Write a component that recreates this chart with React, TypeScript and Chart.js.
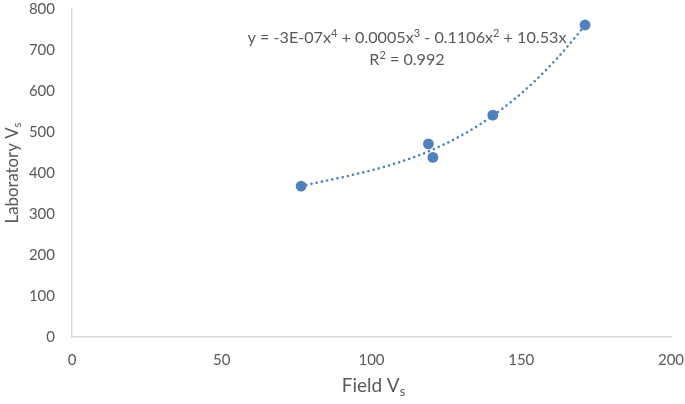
import React, { useEffect, useRef } from "react";
import { Chart, registerables } from "chart.js";

Chart.register(...registerables);

// Data
const fieldVs: number[] = [76.5, 119, 120.5, 140.5, 171.3];
const labVs: number[] = [368, 471, 438, 541, 761];

const xTickMin = 0;
const xTickMax = 200;
const xTickStep = 50;
const yTickMin = 0;
const yTickMax = 800;
const yTickStep = 100;

const xTitle = [{ t: "Field V" }, { t: "s", sub: true }];
const yTitle = [{ t: "Laboratory V" }, { t: "s", sub: true }];
const eqLine1 = [
  { t: "y = -3E-07x" },
  { t: "4", sup: true },
  { t: " + 0.0005x" },
  { t: "3", sup: true },
  { t: " - 0.1106x" },
  { t: "2", sup: true },
  { t: " + 10.53x" },
];
const eqLine2 = [{ t: "R" }, { t: "2", sup: true }, { t: " = 0.992" }];

const BLUE = "#4F81BD";
const TEXT = "#595959";
const FONT = "Lato, 'Open Sans', sans-serif";

// Least-squares polynomial (degree 4, zero intercept) from the data points
function fitPoly(xs: number[], ys: number[], deg: number): number[] {
  const n = deg;
  const A: number[][] = Array.from({ length: n }, () => new Array(n).fill(0));
  const b: number[] = new Array(n).fill(0);
  for (let p = 0; p < xs.length; p++) {
    const t = xs[p] / 100;
    const phi: number[] = [];
    for (let k = 1; k <= n; k++) phi.push(Math.pow(t, k));
    for (let i = 0; i < n; i++) {
      b[i] += phi[i] * ys[p];
      for (let j = 0; j < n; j++) A[i][j] += phi[i] * phi[j];
    }
  }
  for (let c = 0; c < n; c++) {
    let piv = c;
    for (let r = c + 1; r < n; r++) if (Math.abs(A[r][c]) > Math.abs(A[piv][c])) piv = r;
    [A[c], A[piv]] = [A[piv], A[c]];
    [b[c], b[piv]] = [b[piv], b[c]];
    for (let r = c + 1; r < n; r++) {
      const f = A[r][c] / A[c][c];
      for (let k = c; k < n; k++) A[r][k] -= f * A[c][k];
      b[r] -= f * b[c];
    }
  }
  const coef = new Array(n).fill(0);
  for (let r = n - 1; r >= 0; r--) {
    let s = b[r];
    for (let k = r + 1; k < n; k++) s -= A[r][k] * coef[k];
    coef[r] = s / A[r][r];
  }
  return coef;
}

function evalPoly(coef: number[], x: number): number {
  const t = x / 100;
  let y = 0;
  for (let k = 0; k < coef.length; k++) y += coef[k] * Math.pow(t, k + 1);
  return y;
}

type Seg = { t: string; sup?: boolean; sub?: boolean };

function segWidth(ctx: CanvasRenderingContext2D, segs: Seg[], size: number, mainOnly: boolean): number {
  const small = size * 0.68;
  let total = 0;
  for (const s of segs) {
    if (mainOnly && (s.sup || s.sub)) continue;
    ctx.font = `${s.sup || s.sub ? small : size}px ${FONT}`;
    total += ctx.measureText(s.t).width;
  }
  return total;
}

// choose a font size so that the text spans the width seen in the reference
function fitSize(ctx: CanvasRenderingContext2D, segs: Seg[], target: number, mainOnly: boolean): number {
  const w = segWidth(ctx, segs, 100, mainOnly);
  return (100 * target) / w;
}

function drawRich(ctx: CanvasRenderingContext2D, segs: Seg[], cx: number, cy: number, size: number, color: string) {
  const small = size * 0.68;
  const widths: number[] = [];
  let total = 0;
  for (const s of segs) {
    ctx.font = `${s.sup || s.sub ? small : size}px ${FONT}`;
    const w = ctx.measureText(s.t).width;
    widths.push(w);
    total += w;
  }
  let x = cx - total / 2;
  ctx.fillStyle = color;
  ctx.textBaseline = "alphabetic";
  ctx.textAlign = "left";
  const base = cy + size * 0.36;
  segs.forEach((s, i) => {
    ctx.font = `${s.sup || s.sub ? small : size}px ${FONT}`;
    let dy = 0;
    if (s.sup) dy = -size * 0.36;
    if (s.sub) dy = size * 0.2;
    ctx.fillText(s.t, x, base + dy);
    x += widths[i];
  });
}

const textPlugin = {
  id: "richText",
  afterDraw(chart: any) {
    const ctx: CanvasRenderingContext2D = chart.ctx;
    const area = chart.chartArea;
    ctx.save();
    const xs = fitSize(ctx, xTitle, 58, true);
    drawRich(ctx, xTitle, (area.left + area.right) / 2 + 2, 385, xs, TEXT);
    const ys = fitSize(ctx, yTitle, 96, true);
    ctx.save();
    ctx.translate(12, (area.top + area.bottom) / 2);
    ctx.rotate(-Math.PI / 2);
    drawRich(ctx, yTitle, 0, 0, ys, TEXT);
    ctx.restore();
    const es = fitSize(ctx, eqLine1, 319, false);
    drawRich(ctx, eqLine1, 407, 37, es, TEXT);
    drawRich(ctx, eqLine2, 407, 59, es, TEXT);
    ctx.restore();
  },
};

export default function App() {
  const ref = useRef<HTMLCanvasElement>(null);
  useEffect(() => {
    document.body.style.margin = "0";
    const coef = fitPoly(fieldVs, labVs, 4);
    const xmin = Math.min(...fieldVs);
    const xmax = Math.max(...fieldVs);
    const trend: { x: number; y: number }[] = [];
    const steps = 120;
    for (let i = 0; i <= steps; i++) {
      const x = xmin + ((xmax - xmin) * i) / steps;
      trend.push({ x, y: evalPoly(coef, x) });
    }
    const chart = new Chart(ref.current!, {
      type: "scatter",
      data: {
        datasets: [
          {
            type: "line",
            label: "Trend",
            data: trend,
            borderColor: BLUE,
            borderWidth: 2.6,
            borderDash: [0.01, 5.3],
            borderCapStyle: "round",
            pointRadius: 0,
            fill: false,
            tension: 0,
            order: 0,
          } as any,
          {
            label: "Vs",
            data: fieldVs.map((x, i) => ({ x, y: labVs[i] })),
            backgroundColor: BLUE,
            borderColor: BLUE,
            pointRadius: 5.4,
            pointBorderWidth: 0,
            order: 1,
          },
        ],
      },
      options: {
        responsive: false,
        animation: false,
        layout: { padding: { top: 9, right: 14, left: 0, bottom: 0 } },
        plugins: { legend: { display: false }, tooltip: { enabled: false } },
        scales: {
          x: {
            type: "linear",
            min: xTickMin,
            max: xTickMax,
            ticks: { stepSize: xTickStep, color: TEXT, font: { family: FONT, size: 15 }, padding: 0 },
            grid: { display: true, drawOnChartArea: false, drawTicks: true, tickLength: 14, color: "rgba(0,0,0,0)" },
            border: { display: true, color: "#D9D9D9", width: 1.5 },
            afterFit: (s: any) => {
              s.height = 67;
            },
          },
          y: {
            type: "linear",
            min: yTickMin,
            max: yTickMax,
            ticks: { stepSize: yTickStep, color: TEXT, font: { family: FONT, size: 15 }, padding: 0 },
            grid: { display: true, drawOnChartArea: false, drawTicks: true, tickLength: 17, color: "rgba(0,0,0,0)" },
            border: { display: true, color: "#D9D9D9", width: 1.5 },
            afterFit: (s: any) => {
              s.width = 72;
            },
          },
        },
      },
      plugins: [textPlugin],
    });
    return () => chart.destroy();
  }, []);
  return (
    <div style={{ width: 685, height: 404 }}>
      <canvas ref={ref} width={685} height={404} />
    </div>
  );
}
